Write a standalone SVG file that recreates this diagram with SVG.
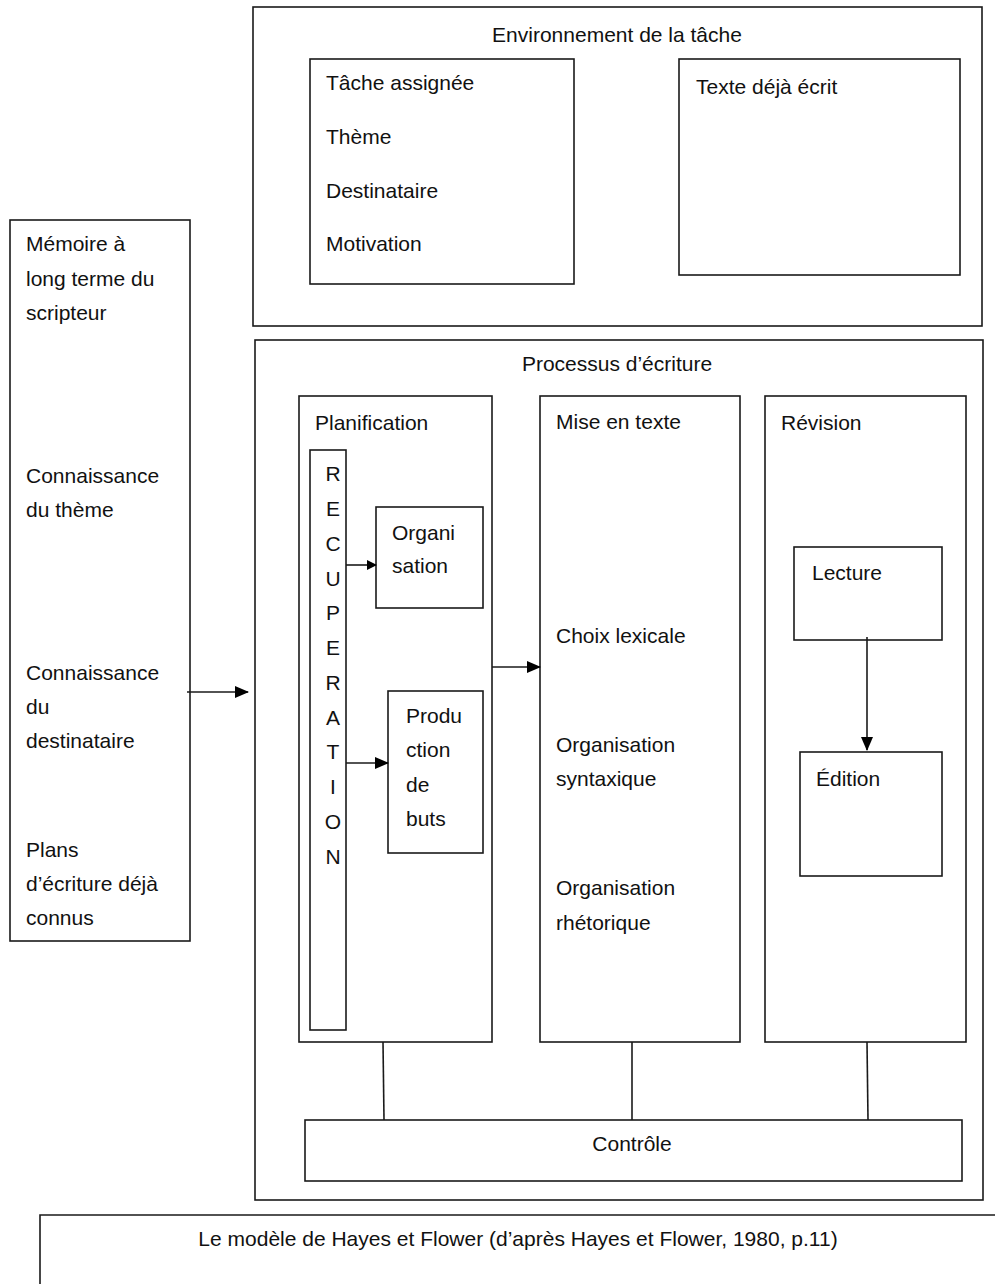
<svg xmlns="http://www.w3.org/2000/svg" width="995" height="1284" viewBox="0 0 995 1284">
<style>
rect{fill:none;stroke:#1a1a1a;stroke-width:1.6}
text{font-family:"Liberation Sans",Arial,sans-serif;font-size:21px;fill:#111}
.c{text-anchor:middle}
.ln{stroke:#1a1a1a;stroke-width:1.6;fill:none}
</style>
<defs>
<marker id="ah" markerWidth="10" markerHeight="10" refX="9" refY="5" orient="auto" markerUnits="userSpaceOnUse">
<path d="M0,0 L10,5 L0,10 z" fill="#000"/>
</marker>
<marker id="ahs" markerWidth="14" markerHeight="12" refX="13" refY="6" orient="auto" markerUnits="userSpaceOnUse">
<path d="M0,0 L14,6 L0,12 z" fill="#000"/>
</marker>
</defs>
<rect x="0" y="0" width="995" height="1284" style="fill:#fff;stroke:none"/>

<g id="environnement">
<rect x="253" y="7" width="729" height="319"/>
<text class="c" x="617" y="42">Environnement de la tâche</text>
</g>
<g id="tache">
<rect x="310" y="59" width="264" height="225"/>
<text x="326" y="90">Tâche assignée</text>
<text x="326" y="144">Thème</text>
<text x="326" y="198">Destinataire</text>
<text x="326" y="251">Motivation</text>
</g>
<g id="texte">
<rect x="679" y="59" width="281" height="216"/>
<text x="696" y="94">Texte déjà écrit</text>
</g>
<g id="memoire">
<rect x="10" y="220" width="180" height="721"/>
<text x="26" y="251">Mémoire à</text>
<text x="26" y="286">long terme du</text>
<text x="26" y="320">scripteur</text>
<text x="26" y="483">Connaissance</text>
<text x="26" y="517">du thème</text>
<text x="26" y="680">Connaissance</text>
<text x="26" y="714">du</text>
<text x="26" y="748">destinataire</text>
<text x="26" y="857">Plans</text>
<text x="26" y="891">d’écriture déjà</text>
<text x="26" y="925">connus</text>
</g>
<g id="processus">
<rect x="255" y="340" width="728" height="860"/>
<text class="c" x="617" y="371">Processus d’écriture</text>
</g>
<g id="planification">
<rect x="299" y="396" width="193" height="646"/>
<text x="315" y="430">Planification</text>
</g>
<g id="recuperation">
<rect x="310" y="450" width="36" height="580"/>
<text class="c" x="333" y="481">R</text>
<text class="c" x="333" y="516">E</text>
<text class="c" x="333" y="551">C</text>
<text class="c" x="333" y="586">U</text>
<text class="c" x="333" y="620">P</text>
<text class="c" x="333" y="655">E</text>
<text class="c" x="333" y="690">R</text>
<text class="c" x="333" y="725">A</text>
<text class="c" x="333" y="759">T</text>
<text class="c" x="333" y="794">I</text>
<text class="c" x="333" y="829">O</text>
<text class="c" x="333" y="864">N</text>
</g>
<g id="organisation">
<rect x="376" y="507" width="107" height="101"/>
<text x="392" y="540">Organi</text>
<text x="392" y="573">sation</text>
</g>
<g id="production">
<rect x="388" y="691" width="95" height="162"/>
<text x="406" y="723">Produ</text>
<text x="406" y="757">ction</text>
<text x="406" y="792">de</text>
<text x="406" y="826">buts</text>
</g>
<g id="mise-en-texte">
<rect x="540" y="396" width="200" height="646"/>
<text x="556" y="429">Mise en texte</text>
<text x="556" y="643">Choix lexicale</text>
<text x="556" y="752">Organisation</text>
<text x="556" y="786">syntaxique</text>
<text x="556" y="895">Organisation</text>
<text x="556" y="930">rhétorique</text>
</g>
<g id="revision">
<rect x="765" y="396" width="201" height="646"/>
<text x="781" y="430">Révision</text>
</g>
<g id="lecture">
<rect x="794" y="547" width="148" height="93"/>
<text x="812" y="580">Lecture</text>
</g>
<g id="edition">
<rect x="800" y="752" width="142" height="124"/>
<text x="816" y="786">Édition</text>
</g>
<g id="controle">
<rect x="305" y="1120" width="657" height="61"/>
<text class="c" x="632" y="1151">Contrôle</text>
</g>
<g id="legende">
<path class="ln" d="M40,1284 V1215 H995"/>
<text class="c" x="518" y="1246">Le modèle de Hayes et Flower (d’après Hayes et Flower, 1980, p.11)</text>
</g>
<g id="connecteurs">
<line class="ln" x1="187" y1="692" x2="248" y2="692" marker-end="url(#ahs)"/>
<line class="ln" x1="492" y1="667" x2="540" y2="667" marker-end="url(#ahs)"/>
<line class="ln" x1="346" y1="565" x2="376" y2="565" marker-end="url(#ah)"/>
<line class="ln" x1="346" y1="763" x2="388" y2="763" marker-end="url(#ahs)"/>
<line class="ln" x1="867" y1="637" x2="867" y2="750" marker-end="url(#ahs)"/>
<line class="ln" x1="383" y1="1042" x2="384" y2="1120"/>
<line class="ln" x1="632" y1="1042" x2="632" y2="1120"/>
<line class="ln" x1="867" y1="1042" x2="868" y2="1120"/>
</g>
</svg>
